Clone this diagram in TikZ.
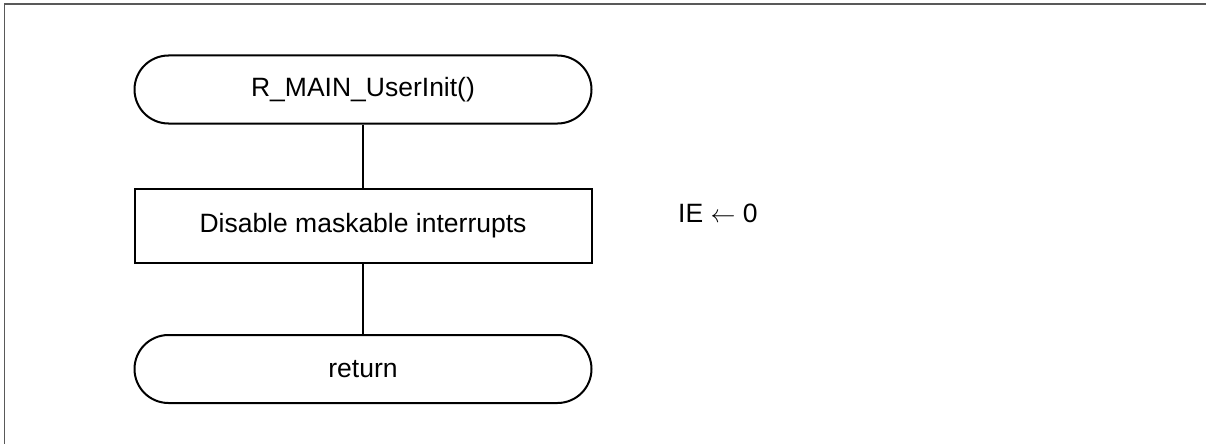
\documentclass[tikz,border=0pt]{standalone}
\usepackage{fontspec}
\setmainfont{Liberation Sans}
\usetikzlibrary{shapes.misc}
\begin{document}
\begin{tikzpicture}[x=1pt,y=-1pt,
  txt/.style={font=\fontsize{26.5}{30}\selectfont},
  term/.style={txt,draw=black,line width=2pt,rounded rectangle,minimum width=457pt,minimum height=68pt,inner sep=0pt},
  proc/.style={txt,draw=black,line width=2pt,rectangle,minimum width=457pt,minimum height=74pt,inner sep=0pt},
  conn/.style={draw=black,line width=2pt},
  frameline/.style={draw=black!65,line width=1.5pt}]
\useasboundingbox (0,0) rectangle (1206,444);
\draw[frameline] (1206,4) -- (4.5,4) -- (4.5,444);
\node[term] (start) at (363,89.5) {R\_MAIN\_UserInit()};
\node[proc] (dis) at (363,226) {Disable maskable interrupts};
\node[term] (ret) at (363,369) {return};
\node[txt,anchor=west,inner sep=0pt] (note) at (678,213) {IE \ensuremath{\leftarrow} 0};
\draw[conn] (start.south) -- (dis.north);
\draw[conn] (dis.south) -- (ret.north);
\end{tikzpicture}
\end{document}
